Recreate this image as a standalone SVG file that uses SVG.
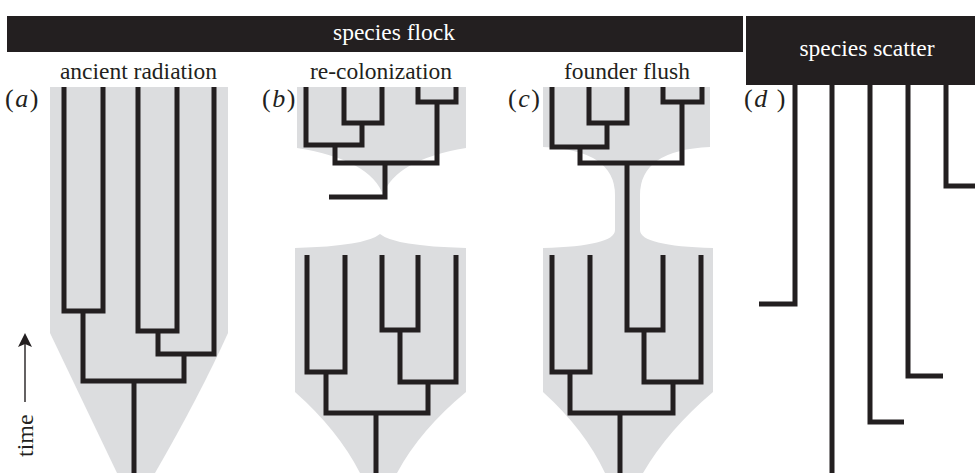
<svg xmlns="http://www.w3.org/2000/svg" width="975" height="473" viewBox="0 0 975 473">
<style>
.band{fill:#231f20}
.shade{fill:#dcdddf}
.tree{fill:none;stroke:#231f20;stroke-width:5;stroke-linejoin:miter;stroke-linecap:butt}
.t{font-family:"Liberation Serif","Times New Roman",serif;font-size:23.5px;fill:#231f20}
.w{fill:#ffffff}
.lab{font-family:"Liberation Serif","Times New Roman",serif;font-size:26px;letter-spacing:1.5px;fill:#231f20}
.time{font-family:"Liberation Serif","Times New Roman",serif;font-size:24px;fill:#231f20}
</style>
<defs>
<marker id="arr" viewBox="0 0 14 14" refX="12" refY="7" markerWidth="14" markerHeight="14" markerUnits="userSpaceOnUse" orient="auto">
<path d="M0,0 L14,7 L0,14 L3,7 Z" fill="#231f20"/>
</marker>
</defs>
<rect width="975" height="473" fill="#ffffff"/>

<g id="flock-header">
<rect class="band" x="7" y="16" width="736" height="36"/>
<text class="t w" x="394" y="40" text-anchor="middle">species flock</text>
</g>
<g id="scatter-header">
<rect class="band" x="746" y="16" width="229" height="69"/>
<text class="t w" x="867" y="56" text-anchor="middle">species scatter</text>
</g>

<g id="panel-a">
<path class="shade" d="M50,87 H228 V333 Q200,395 155,473 H117 L50,333 Z"/>
<text class="t" x="138.5" y="79" text-anchor="middle">ancient radiation</text>
<text class="lab" x="5" y="107">(<tspan font-style="italic">a</tspan>)</text>
</g>
<g id="panel-b">
<path class="shade" d="M297,87 H466 V148 Q395,160 383,195 Q371,160 297,148 Z"/>
<path class="shade" d="M295,248 Q366,246 380,234 Q394,246 466,248 V392 Q420,430 397,473 H360 Q338,430 295,392 Z"/>
<text class="t" x="381" y="79" text-anchor="middle">re-colonization</text>
<text class="lab" x="262" y="107">(<tspan font-style="italic">b</tspan>)</text>
</g>
<g id="panel-c">
<path class="shade" d="M543,87 H710 V147 Q640,150 640,195 V230 Q640,246 713,248 V392 Q668,430 643,473 H605 Q585,430 543,392 V248 Q615,246 615,230 V195 Q615,150 543,147 Z"/>
<text class="t" x="627" y="79" text-anchor="middle">founder flush</text>
<text class="lab" x="508" y="107">(<tspan font-style="italic">c</tspan>)</text>
</g>
<g id="panel-d">
<text class="lab" x="744" y="107">(<tspan font-style="italic">d</tspan> )</text>
</g>
<g id="time-axis">
<line x1="25" y1="402" x2="25" y2="335" stroke="#231f20" stroke-width="1.4" marker-end="url(#arr)"/>
<text class="time" transform="translate(33,457) rotate(-90)">time</text>
</g>

<g id="connectors">
<!-- panel a -->
<path class="tree" d="M64,87 V311 H103 V87"/>
<path class="tree" d="M138,87 V331 H177 V87"/>
<path class="tree" d="M158,331 V354 H214 V87"/>
<path class="tree" d="M83,311 V381 H184 V354"/>
<path class="tree" d="M134,381 V473"/>
<!-- panel b top -->
<path class="tree" d="M344,87 V123 H382 V87"/>
<path class="tree" d="M306,87 V145 H362 V123"/>
<path class="tree" d="M418,87 V102 H456 V87"/>
<path class="tree" d="M335,145 V163 H437 V102"/>
<path class="tree" d="M385,163 V197 H329"/>
<!-- panel b bottom -->
<path class="tree" d="M307,255 V372 H345 V255"/>
<path class="tree" d="M382,255 V330 H418 V255"/>
<path class="tree" d="M400,330 V382 H456 V255"/>
<path class="tree" d="M326,372 V413 H428 V382"/>
<path class="tree" d="M376,413 V473"/>
<!-- panel c -->
<path class="tree" d="M589,87 V123 H627 V87"/>
<path class="tree" d="M552,87 V147 H607 V123"/>
<path class="tree" d="M663,87 V102 H702 V87"/>
<path class="tree" d="M580,147 V163 H682 V102"/>
<path class="tree" d="M627,163 V330 H663 V255"/>
<path class="tree" d="M552,255 V372 H590 V255"/>
<path class="tree" d="M644,330 V382 H701 V255"/>
<path class="tree" d="M570,372 V413 H673 V382"/>
<path class="tree" d="M620,413 V473"/>
<!-- panel d -->
<path class="tree" d="M946,85 V186 H975"/>
<path class="tree" d="M795,85 V304 H759"/>
<path class="tree" d="M832,85 V473"/>
<path class="tree" d="M870,85 V422 H904"/>
<path class="tree" d="M908,85 V376 H943"/>
</g>
</svg>
